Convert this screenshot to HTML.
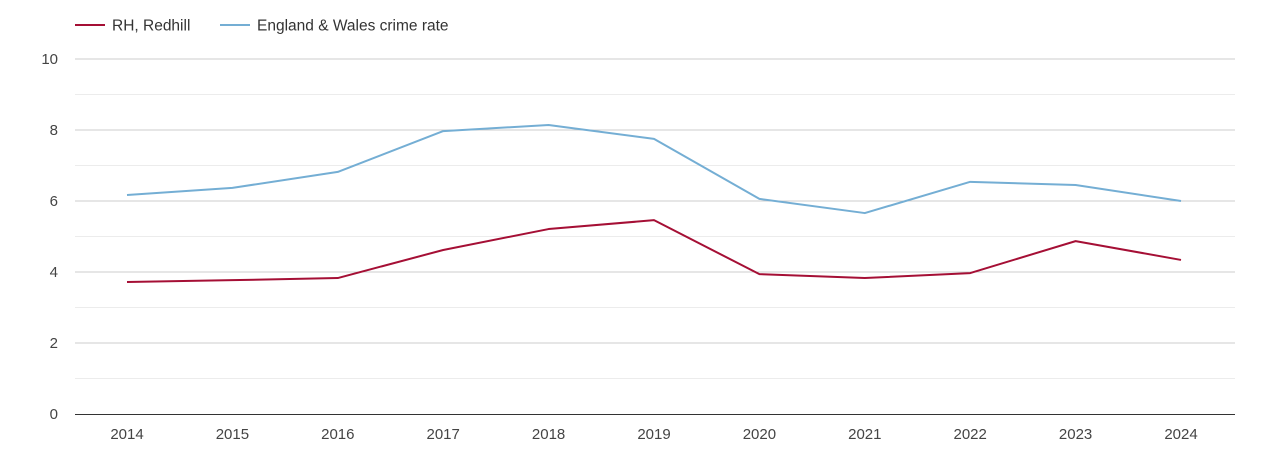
<!DOCTYPE html>
<html><head><meta charset="utf-8"><style>
html,body{margin:0;padding:0;background:#fff;}
svg{display:block;font-family:"Liberation Sans",Arial,sans-serif;}
</style></head><body>
<svg id="chart" width="1270" height="450">
<g id="legend">
<g>
<line x1="75" y1="25" x2="105" y2="25" stroke="#a50f35" stroke-width="2"/>
<text x="112" y="30.5" font-size="15.5" fill="#333">RH, Redhill</text></g>
<g>
<line x1="220" y1="25" x2="250" y2="25" stroke="#74aed4" stroke-width="2"/>
<text x="257" y="30.5" font-size="15.5" fill="#333">England &amp; Wales crime rate</text></g>
</g>
<g id="grid"></g><g id="axes"></g><g id="series"></g>
</svg>
<script>
const years = [2014,2015,2016,2017,2018,2019,2020,2021,2022,2023,2024];
const redhill = [3.72,3.77,3.83,4.62,5.21,5.46,3.94,3.83,3.97,4.87,4.34];
const englandWales = [6.17,6.37,6.82,7.97,8.14,7.75,6.06,5.66,6.54,6.45,6.0];
const yTicks = [0,2,4,6,8,10];

const NS="http://www.w3.org/2000/svg";
const plotL=75,plotR=1235,plotT=59,plotB=414,yMax=10;
const xFirst=127,xLast=1181;
function xs(i){return xFirst+(xLast-xFirst)*i/(years.length-1);}
function ys(v){return plotB-(plotB-plotT)*v/yMax;}
function mk(t,a,p){const e=document.createElementNS(NS,t);for(const k in a)e.setAttribute(k,a[k]);p.appendChild(e);return e;}
const gridG=document.getElementById('grid'),axesG=document.getElementById('axes'),seriesG=document.getElementById('series');
for(let v=1;v<yMax;v+=2){
  const l=mk('line',{x1:plotL,x2:plotR,y1:ys(v),y2:ys(v),stroke:'#ececec','stroke-width':1},gridG);
  
  
}
yTicks.forEach(v=>{
  if(v>0){const l=mk('line',{x1:plotL,x2:plotR,y1:ys(v),y2:ys(v),stroke:'#cccccc','stroke-width':1},gridG);
  
  }
  const t=mk('text',{x:58,y:ys(v)+5,'text-anchor':'end','font-size':15,fill:'#444'},axesG);
  t.textContent=v;
  
  
});
const ax=mk('line',{x1:plotL,x2:plotR,y1:plotB+0.5,y2:plotB+0.5,stroke:'#333','stroke-width':1},axesG);


years.forEach((y,i)=>{
  const t=mk('text',{x:xs(i),y:439,'text-anchor':'middle','font-size':15,fill:'#444'},axesG);
  t.textContent=y;
  
  
});
function drawLine(vals,color,name){
  const p=mk('polyline',{points:vals.map((v,i)=>xs(i)+','+ys(v)).join(' '),fill:'none',stroke:color,'stroke-width':2,'stroke-linejoin':'round'},seriesG);
  
  
}
drawLine(englandWales,'#74aed4','england-wales-line');
drawLine(redhill,'#a50f35','redhill-line');
</script>
</body></html>
